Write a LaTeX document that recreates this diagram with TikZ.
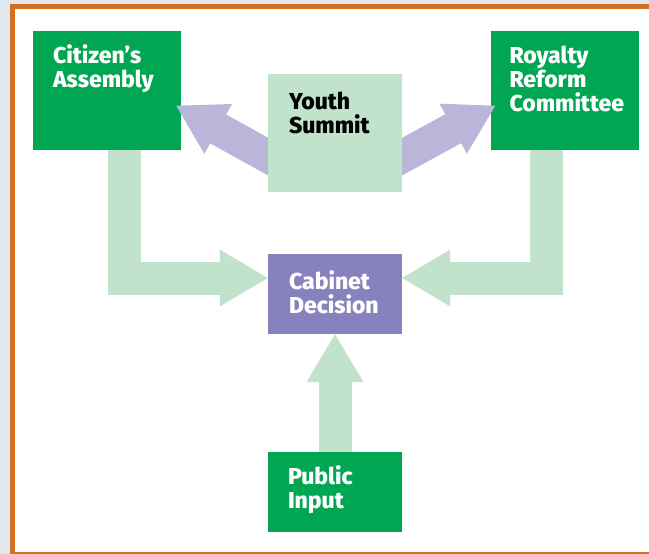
\documentclass[tikz,border=0pt]{standalone}
\usepackage{fontspec}
\setmainfont{Fira Sans}[BoldFont={Fira Sans ExtraBold}]
\usetikzlibrary{arrows.meta,calc}

\definecolor{leafgreen}{RGB}{0,166,81}
\definecolor{mintgreen}{RGB}{193,227,203}
\definecolor{lilac}{RGB}{186,182,218}
\definecolor{violet}{RGB}{135,129,189}
\definecolor{rust}{RGB}{212,110,32}
\definecolor{haze}{RGB}{226,231,238}

\tikzset{
  panel/.style={rectangle, inner sep=0pt, minimum width=134pt, minimum height=80pt},
  bigpanel/.style={panel, minimum width=148pt, minimum height=119pt},
  boxtext/.style={anchor=north west, inner sep=0pt, align=left,
    font=\fontsize{23}{24}\selectfont\bfseries},
  feed/.style={draw=mintgreen, line width=33pt,
    -{Triangle[length=48pt, width=57pt, line width=0pt]}},
  push/.style={feed, draw=lilac}
}

\begin{document}
\begin{tikzpicture}[x=1pt, y=-1pt]
  \useasboundingbox (0,0) rectangle (649,554);
  \clip (0,0) rectangle (649,554);
  \fill[haze] (0,0) rectangle (649,554);
  \draw[rust, line width=5pt, fill=white] (12.5,6.5) rectangle (700,554.5);

  % the two bodies on top
  \node[bigpanel, fill=leafgreen] (cit) at (107,90.5) {};
  \node[bigpanel, fill=leafgreen] (roy) at (564.5,90.5) {};
  \node[boxtext, text=white] (cit-t) at ($(cit.north west)+(20,14)$) {Citizen’s\\Assembly};
  \node[boxtext, text=white] (roy-t) at ($(roy.north west)+(19,14.5)$) {Royalty\\Reform\\Committee};

  % youth summit feeds both bodies
  \coordinate (you-c) at (335,133);
  \draw[push] ($(you-c)+(-45,35.7)$) -- ($(cit.east)+(-5,15.2)$);
  \draw[push] ($(you-c)+(45,35.7)$) -- ($(roy.west)+(5,15.2)$);
  \node[panel, minimum height=118pt, fill=mintgreen] (you) at (you-c) {};
  \node[boxtext] (you-t) at ($(you.north west)+(21,17.5)$) {Youth\\Summit};

  \node[panel, fill=violet] (cab) at (335,294) {};
  \node[boxtext, text=white] (cab-t) at ($(cab.north west)+(21,16.5)$) {Cabinet\\Decision};
  \node[panel, fill=leafgreen] (pub) at (335,492) {};
  \node[boxtext, text=white] (pub-t) at ($(pub.north west)+(20,13.5)$) {Public\\Input};

  % everything ends at the cabinet
  \draw[feed] ([xshift=17pt]cit.south) |- ([yshift=16pt]cab.west);
  \draw[feed] ([xshift=-18pt]roy.south) |- ([yshift=16pt]cab.east);
  \draw[feed] (pub) -- (cab);
\end{tikzpicture}
\end{document}
